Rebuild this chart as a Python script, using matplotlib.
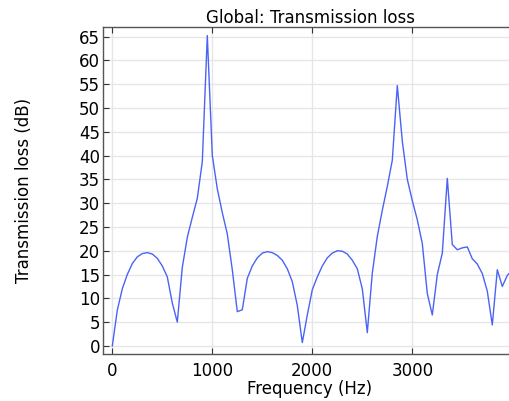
import numpy as np
import matplotlib
matplotlib.use('Agg')
import matplotlib.pyplot as plt

# ---- Transmission loss data ----
freq = np.arange(0, 4001, 50)
tl = [
    0.0, 7.5, 12.0, 15.0, 17.3, 18.7, 19.4, 19.6, 19.3, 18.4,      # 0-450
    16.8, 14.5, 9.0, 5.0, 16.5, 22.8, 27.0, 31.0, 38.7, 65.2,      # 500-950
    40.0, 33.0, 28.0, 23.5, 16.0, 7.2, 7.6, 14.2, 16.8, 18.5,      # 1000-1450
    19.5, 19.8, 19.6, 19.0, 18.0, 16.2, 13.5, 8.5, 0.7, 6.5,       # 1500-1950
    11.8, 14.5, 16.8, 18.5, 19.5, 20.0, 19.9, 19.3, 18.0, 16.2,    # 2000-2450
    12.0, 2.8, 15.3, 23.0, 28.5, 33.5, 39.0, 54.7, 43.0, 35.0,     # 2500-2950
    30.5, 26.5, 21.5, 11.0, 6.5, 15.0, 19.5, 35.2, 21.3, 20.2,     # 3000-3450
    20.6, 20.8, 18.3, 17.2, 15.2, 11.5, 4.4, 16.0, 12.5, 14.8,     # 3500-3950
    16.0,                                                          # 4000
]

fig = plt.figure(figsize=(5.09, 4.01), dpi=100)
ax = fig.add_axes([103 / 509, 47 / 401, 414 / 509, 327 / 401])

ax.plot(freq, tl, color='#4a63f5', linewidth=1.0)

ax.set_xlim(-93, 4047)
ax.set_ylim(-1.7, 67)
ax.set_xticks([0, 1000, 2000, 3000])
ax.set_yticks(np.arange(0, 66, 5))

ax.grid(True, color='#e6e6e6', linewidth=1.0)
ax.set_axisbelow(True)

ax.tick_params(direction='in', length=4, width=0.8, top=True, right=True,
               labelsize=12, colors='#333333', labelcolor='black')
ax.tick_params(axis='x', pad=6)
ax.tick_params(axis='y', pad=2)
for s in ax.spines.values():
    s.set_color('#555555')
    s.set_linewidth(1.0)

ax.set_title('Global: Transmission loss', fontsize=12, pad=3)
ax.set_xlabel('Frequency (Hz)', fontsize=12, labelpad=0)
ax.set_ylabel('Transmission loss (dB)', fontsize=12)
ax.yaxis.set_label_coords(-0.17, 0.5)

fig.savefig('out.png', dpi=100)
